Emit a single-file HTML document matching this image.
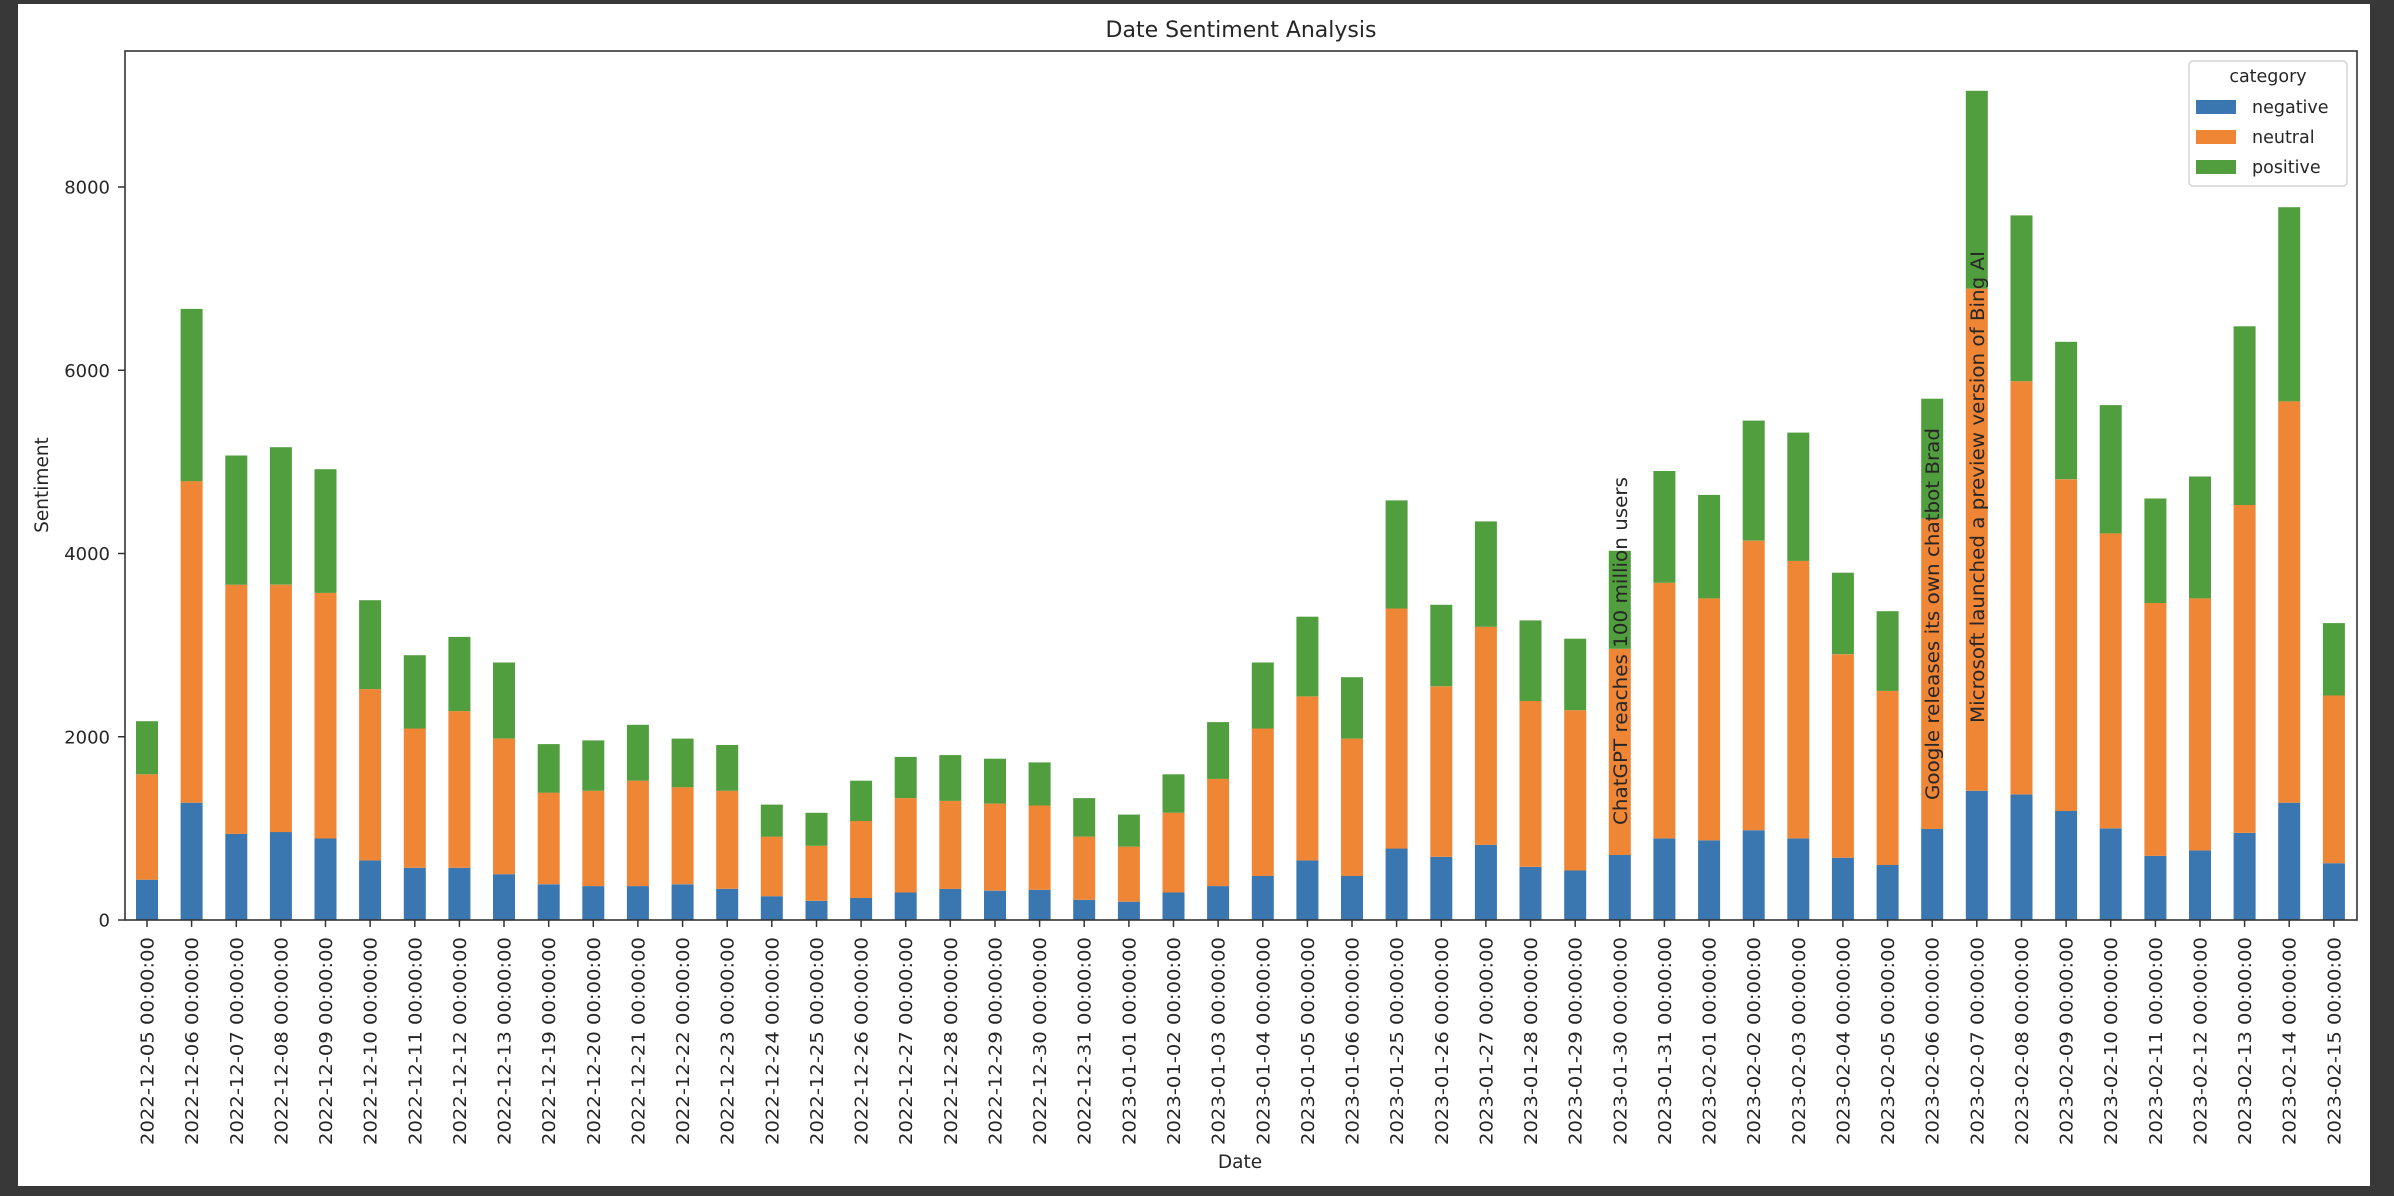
<!DOCTYPE html>
<html><head><meta charset="utf-8"><style>
html,body{margin:0;padding:0;background:#383838;}
#w{position:absolute;left:18px;top:4px;width:2352px;height:1182px;background:#fff;}
svg{position:absolute;left:0;top:0;}
text{font-family:"DejaVu Sans","Liberation Sans",sans-serif;fill:#262626;}
</style></head><body>
<div id="w"></div>
<svg id="s" width="2394" height="1196" xmlns="http://www.w3.org/2000/svg"></svg>
<script>
var d=[
["2022-12-05",440,1590,2170],["2022-12-06",1280,4790,6670],["2022-12-07",940,3660,5070],["2022-12-08",960,3660,5160],["2022-12-09",890,3570,4920],
["2022-12-10",650,2520,3490],["2022-12-11",570,2090,2890],["2022-12-12",570,2280,3090],["2022-12-13",500,1980,2810],["2022-12-19",390,1390,1920],
["2022-12-20",370,1410,1960],["2022-12-21",370,1520,2130],["2022-12-22",390,1450,1980],["2022-12-23",340,1410,1910],["2022-12-24",260,910,1260],
["2022-12-25",210,810,1170],["2022-12-26",240,1080,1520],["2022-12-27",300,1330,1780],["2022-12-28",340,1300,1800],["2022-12-29",320,1270,1760],
["2022-12-30",330,1250,1720],["2022-12-31",220,910,1330],["2023-01-01",200,800,1150],["2023-01-02",300,1170,1590],["2023-01-03",370,1540,2160],
["2023-01-04",480,2090,2810],["2023-01-05",650,2440,3310],["2023-01-06",480,1980,2650],["2023-01-25",780,3400,4580],["2023-01-26",690,2550,3440],
["2023-01-27",820,3200,4350],["2023-01-28",580,2390,3270],["2023-01-29",540,2290,3070],["2023-01-30",710,2960,4030],["2023-01-31",890,3680,4900],
["2023-02-01",870,3510,4640],["2023-02-02",980,4140,5450],["2023-02-03",890,3920,5320],["2023-02-04",680,2900,3790],["2023-02-05",600,2500,3370],
["2023-02-06",995,4380,5690],["2023-02-07",1410,6890,9050],["2023-02-08",1370,5880,7690],["2023-02-09",1190,4810,6310],["2023-02-10",1000,4220,5620],
["2023-02-11",700,3460,4600],["2023-02-12",760,3510,4840],["2023-02-13",950,4530,6480],["2023-02-14",1280,5660,7780],["2023-02-15",620,2450,3240]];
var L=125,R=2357,T=51,B=920,k=(920-187)/8000;
function y(v){return B-v*k;}
var h='';
var C=['#3a76af','#ef8636','#519e3e'];
d.forEach(function(r,i){
 var cx=147+i*44.63,x=cx-11;
 var a=[0,r[1],r[2],r[3]];
 for(var j=0;j<3;j++){h+='<rect x="'+x.toFixed(1)+'" y="'+y(a[j+1]).toFixed(1)+'" width="22" height="'+((a[j+1]-a[j])*k).toFixed(1)+'" fill="'+C[j]+'"/>';}
 h+='<line x1="'+cx.toFixed(1)+'" y1="920" x2="'+cx.toFixed(1)+'" y2="927" stroke="#333" stroke-width="1.5"/>';
 h+='<text transform="translate('+(cx+6.5).toFixed(1)+',937) rotate(-90)" text-anchor="end" font-size="17.5" textLength="208" lengthAdjust="spacingAndGlyphs">'+r[0]+' 00:00:00</text>';
});
[0,2000,4000,6000,8000].forEach(function(v){
 h+='<line x1="118" y1="'+y(v)+'" x2="125" y2="'+y(v)+'" stroke="#333" stroke-width="1.5"/>';
 h+='<text x="110" y="'+(y(v)+6.5)+'" text-anchor="end" font-size="18">'+v+'</text>';
});
h+='<rect x="125" y="51" width="2232" height="869" fill="none" stroke="#333" stroke-width="1.6"/>';
function ann(cx,yb,t,len){h+='<text transform="translate('+(cx+7)+','+yb+') rotate(-90)" font-size="18.5" textLength="'+len+'" lengthAdjust="spacingAndGlyphs" fill="#111">'+t+'</text>';}
ann(1620,825,'ChatGPT reaches 100 million users',348);
ann(1932,800,'Google releases its own chatbot Brad',372);
ann(1977,723,'Microsoft launched a preview version of Bing AI',472);
h+='<text x="1241" y="37" text-anchor="middle" font-size="22">Date Sentiment Analysis</text>';
h+='<text x="1240" y="1168" text-anchor="middle" font-size="18.5">Date</text>';
h+='<text transform="translate(48,485) rotate(-90)" text-anchor="middle" font-size="18.5">Sentiment</text>';
h+='<rect x="2189" y="61" width="158" height="125" rx="4" fill="#fff" fill-opacity="0.8" stroke="#ccc" stroke-width="1.2"/>';
h+='<text x="2268" y="82" text-anchor="middle" font-size="17.5">category</text>';
['negative','neutral','positive'].forEach(function(t,i){
 var yy=107+i*30;
 h+='<rect x="2196" y="'+(yy-7)+'" width="40" height="14" fill="'+C[i]+'"/>';
 h+='<text x="2252" y="'+(yy+6)+'" font-size="17.5">'+t+'</text>';
});
document.getElementById('s').innerHTML=h;
</script>
</body></html>
